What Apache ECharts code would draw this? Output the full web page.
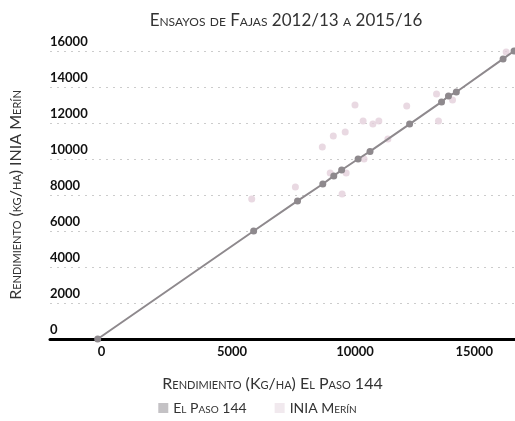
<!DOCTYPE html>
<html>
<head>
<meta charset="utf-8">
<script src="https://cdn.jsdelivr.net/npm/echarts@6/dist/echarts.min.js"></script>
<style>
  html, body { margin: 0; padding: 0; background: #fff; }
  #chart { width: 515px; height: 421px; }
</style>
</head>
<body>
<div id="chart"></div>
<script>
  // El Paso 144 (x) vs INIA Merín (y), kg/ha
  var elPasoData = [
    [0, 0], [6540, 6000], [8380, 7670], [9440, 8610], [9900, 9060],
    [10230, 9390], [10920, 10000], [11420, 10420], [13080, 11940],
    [14420, 13170], [14710, 13500], [15040, 13720], [17000, 15560], [17460, 16000]
  ];
  var iniaMerinData = [
    [6460, 7780], [8290, 8440], [10790, 13000], [9420, 10670], [9880, 11280],
    [10380, 11500], [11130, 12110], [11540, 11940], [11790, 12110], [12960, 12940],
    [12170, 11110], [9750, 9220], [10420, 9220], [10250, 8060], [11170, 10000],
    [14210, 13610], [14880, 13280], [14290, 12110], [17130, 15940]
  ];
  var xTicks = [0, 5000, 10000, 15000];
  var seriesNames = ["El Paso 144", "INIA Merín"];

  var scFont = "Lato";
  var plain = function (v) { return String(v); };
  var chart = echarts.init(document.getElementById("chart"));

  chart.setOption({
    animation: false,
    title: {
      text: "Ensayos de Fajas 2012/13 a 2015/16",
      left: 281,
      top: 7,
      textAlign: "center",
      textStyle: {
        fontFamily: scFont,
        fontStyle: "small-caps",
        fontWeight: "normal",
        fontSize: 17,
        color: "#333"
      }
    },
    legend: {
      bottom: 1,
      left: "center",
      icon: "rect",
      itemWidth: 10,
      itemHeight: 10,
      itemGap: 28,
      textStyle: {
        fontFamily: scFont,
        fontStyle: "small-caps",
        fontSize: 14,
        color: "#333"
      },
      data: [
        {name: seriesNames[0], itemStyle: {color: "#c4c2c5"}},
        {name: seriesNames[1], itemStyle: {color: "#eee3ea"}}
      ]
    },
    grid: {
      left: 47,
      right: 0,
      top: 51,
      bottom: 82
    },
    xAxis: {
      type: "value",
      min: -2000,
      max: 17500,
      name: "Rendimiento (Kg/ha) El Paso 144",
      nameLocation: "middle",
      nameGap: 37,
      nameTextStyle: {
        fontFamily: scFont,
        fontStyle: "small-caps",
        fontSize: 16,
        color: "#333",
        padding: [0, 20, 0, 0]
      },
      axisLine: {
        lineStyle: {color: "#000", width: 3}
      },
      axisTick: {show: false},
      splitLine: {show: false},
      axisLabel: {
        customValues: xTicks,
        formatter: plain,
        align: "left",
        margin: 6,
        fontFamily: "Lato",
        fontWeight: "bold",
        fontSize: 13,
        color: "#111"
      }
    },
    yAxis: {
      type: "value",
      min: 0,
      max: 16000,
      interval: 2000,
      name: "Rendimiento (kg/ha) INIA Merín",
      nameLocation: "middle",
      nameGap: 26,
      nameTextStyle: {
        fontFamily: scFont,
        fontStyle: "small-caps",
        fontSize: 16,
        color: "#333"
      },
      axisLine: {show: false},
      axisTick: {show: false},
      splitLine: {
        lineStyle: {color: "#ccc", type: [2, 5], width: 1}
      },
      axisLabel: {
        inside: true,
        formatter: plain,
        margin: 0,
        align: "left",
        verticalAlign: "bottom",
        padding: [0, 0, 3, 0],
        fontFamily: "Lato",
        fontWeight: "bold",
        fontSize: 13,
        color: "#111"
      }
    },
    series: [
      {
        name: seriesNames[1],
        type: "scatter",
        data: iniaMerinData,
        symbolSize: 7,
        itemStyle: {color: "#e3cfdb"},
        z: 2
      },
      {
        name: seriesNames[0],
        type: "line",
        data: elPasoData,
        symbol: "circle",
        symbolSize: 7,
        showAllSymbol: true,
        lineStyle: {color: "#8e898d", width: 2},
        itemStyle: {color: "#8e898d"},
        z: 3
      }
    ]
  });
</script>
</body>
</html>
